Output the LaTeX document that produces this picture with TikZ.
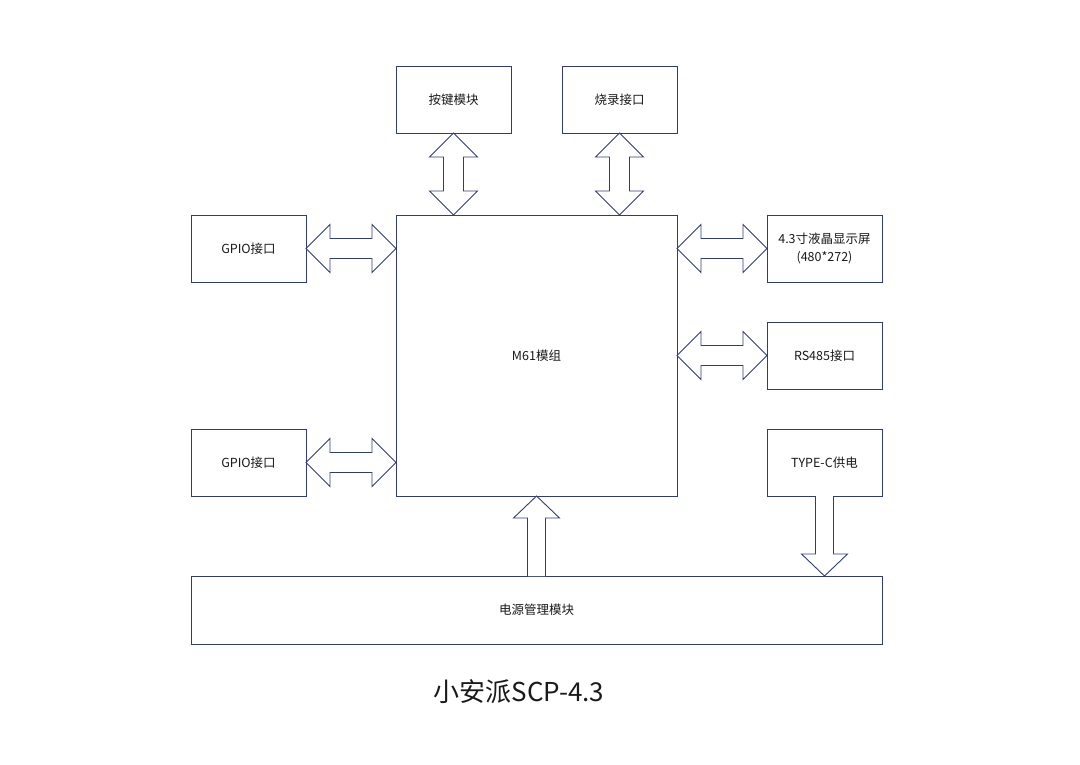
\documentclass[tikz,border=0pt]{standalone}
\usepackage{fontspec}
\setmainfont{Noto Sans CJK SC}
\usepackage{tikz}
\usetikzlibrary{calc,positioning}
\definecolor{navy}{HTML}{323D6E}
\definecolor{txt}{HTML}{1A1A1A}
\tikzset{
  blk/.style={draw=navy,line width=0.9pt,fill=white,line join=miter},
  box/.style={blk,outer sep=0pt,inner sep=2pt,minimum width=115pt,minimum height=67pt,font=\fontsize{12.5}{18}\selectfont\color{txt},align=center},
  cpu/.style={box,minimum width=281pt,minimum height=281pt},
  bus/.style={box,minimum width=691pt,minimum height=68pt},
  ttl/.style={font=\fontsize{26}{30}\selectfont\color{txt}},
}
% block arrows between nodes
\newcommand{\vdarrow}[2]{%
  \draw[blk] let \p1=(#1), \p2=(#2) in
    (\x1,\y1) -- (\x1+24pt,\y1-24pt) -- (\x1+10pt,\y1-24pt) -- (\x1+10pt,\y2+24pt)
    -- (\x1+24pt,\y2+24pt) -- (\x1,\y2) -- (\x1-24pt,\y2+24pt) -- (\x1-10pt,\y2+24pt)
    -- (\x1-10pt,\y1-24pt) -- (\x1-24pt,\y1-24pt) -- cycle;}
\newcommand{\hdarrow}[2]{%
  \draw[blk] let \p1=(#1), \p2=(#2) in
    (\x1,\y1) -- (\x1+24pt,\y1+24pt) -- (\x1+24pt,\y1+10pt) -- (\x2-24pt,\y1+10pt)
    -- (\x2-24pt,\y1+24pt) -- (\x2,\y1) -- (\x2-24pt,\y1-24pt) -- (\x2-24pt,\y1-10pt)
    -- (\x1+24pt,\y1-10pt) -- (\x1+24pt,\y1-24pt) -- cycle;}
\newcommand{\sarrow}[2]{% single arrow, tip at #2
  \draw[blk] let \p1=(#1), \p2=(#2), \n1={ifthenelse(\y2>\y1,1,-1)} in
    (\x1-9pt,\y1) -- (\x1-9pt,\y2-\n1*22pt) -- (\x1-23pt,\y2-\n1*22pt) -- (\x1,\y2)
    -- (\x1+23pt,\y2-\n1*22pt) -- (\x1+9pt,\y2-\n1*22pt) -- (\x1+9pt,\y1);}

\begin{document}
\begin{tikzpicture}[x=1pt,y=-1pt]
\useasboundingbox (0,0) rectangle (1080,764);
% boxes
\node[box] (key) at (453.5,99.5) {按键模块};
\node[box] (burn) at (619.5,99.5) {烧录接口};
\node[cpu] (m61) at (536.5,355.5) {M61模组};
\node[box] (gpioA) at (248.5,248.5) {GPIO接口};
\node[box] (gpioB) at (248.5,462.5) {GPIO接口};
\node[box] (lcd) at (824.5,248.5) {4.3寸液晶显示屏\\(480*272)};
\node[box] (rs) at (824.5,355.5) {RS485接口};
\node[box] (typec) at (824.5,462.5) {TYPE-C供电};
\node[bus] (pwr) at (536.5,610) {电源管理模块};
\node[ttl] (title) at (519,692) {小安派SCP-4.3};
% arrows
\vdarrow{key.south}{key.south |- m61.north}
\vdarrow{burn.south}{burn.south |- m61.north}
\hdarrow{gpioA.east}{m61.west |- gpioA.east}
\hdarrow{gpioB.east}{m61.west |- gpioB.east}
\hdarrow{m61.east |- lcd.west}{lcd.west}
\hdarrow{m61.east |- rs.west}{rs.west}
\sarrow{pwr.north}{m61.south}
\sarrow{typec.south}{typec.south |- pwr.north}
\end{tikzpicture}
\end{document}
